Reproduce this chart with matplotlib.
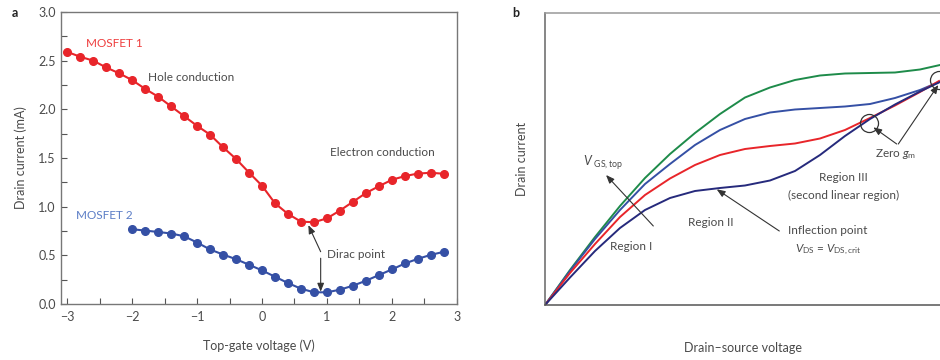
import numpy as np
import matplotlib.pyplot as plt

plt.rcParams['font.family'] = ['Lato', 'DejaVu Sans']
plt.rcParams['mathtext.fontset'] = 'custom'
plt.rcParams['mathtext.rm'] = 'Lato'
plt.rcParams['mathtext.it'] = 'Lato:italic'

TXT = '#4a4a4a'
RED = '#e8252a'
BLUE = '#3550a5'
GREEN = '#1e8b4a'
NAVY = '#262a7c'

# ---- panel a data ----
v1 = np.round(np.arange(-3.0, 2.81, 0.2), 2)
i1 = [2.59, 2.54, 2.50, 2.43, 2.37, 2.30, 2.21, 2.13, 2.03, 1.93, 1.83, 1.74,
      1.61, 1.49, 1.35, 1.215, 1.034, 0.925, 0.846, 0.84, 0.88, 0.96, 1.05,
      1.14, 1.21, 1.276, 1.314, 1.34, 1.348, 1.338]
v2 = np.round(np.arange(-2.0, 2.81, 0.2), 2)
i2 = [0.768, 0.754, 0.74, 0.724, 0.696, 0.631, 0.56, 0.508, 0.46, 0.403,
      0.345, 0.28, 0.215, 0.157, 0.12, 0.12, 0.147, 0.188, 0.239, 0.297,
      0.355, 0.416, 0.464, 0.505, 0.536]

# ---- panel b sketch curves (arbitrary units) ----
g_x = [0, 25, 50, 75, 100, 125, 150, 175, 200, 225, 250, 275, 300, 325, 350, 375, 395]
g_y = [0, 35, 68, 99, 127, 151, 172, 191, 207.5, 217.5, 225, 229.5, 231.5, 232, 232.5, 235.5, 240]
b_x = [0, 25, 50, 75, 100, 125, 150, 175, 200, 225, 250, 275, 300, 325, 350, 375, 394]
b_y = [0, 34, 66, 95, 121, 141, 160, 175, 186, 192.5, 195.5, 197, 198.5, 201, 207, 215, 223]
r_x = [0, 25, 50, 75, 100, 125, 150, 175, 200, 225, 250, 275, 300, 325, 350, 375, 394]
r_y = [0, 32, 61, 88, 110, 126.5, 140, 150, 156, 159, 161.5, 166.5, 175, 187, 199.5, 213, 224]
n_x = [0, 25, 50, 75, 100, 125, 150, 175, 200, 225, 250, 275, 300, 325, 350, 375, 395]
n_y = [0, 27.5, 54, 77, 95, 107, 114, 117, 119.5, 124.5, 134, 150, 169, 186, 200.5, 213.5, 223]
zero_gm_x = [324.3, 394.3]
zero_gm_y = [182.3, 225]

fig = plt.figure(figsize=(9.4, 3.6), dpi=100)

# ================= panel a =================
ax = fig.add_axes([0.0646, 0.1556, 0.4214, 0.8111])
ax.plot(v1, i1, '-o', color=RED, ms=5.5, lw=1.5)
ax.plot(v2, i2, '-o', color=BLUE, ms=5.5, lw=1.5)
ax.set_xlim(-3.1, 3.0)
ax.set_ylim(0, 3.0)
ax.set_xticks([-3, -2, -1, 0, 1, 2, 3])
ax.set_xticks(np.arange(-2.5, 3, 1.0), minor=True)
ax.set_yticks(np.arange(0, 3.01, 0.5))
ax.set_yticks(np.arange(0.25, 3, 0.5), minor=True)
ax.set_yticklabels(['0.0', '0.5', '1.0', '1.5', '2.0', '2.5', '3.0'])
ax.tick_params(which='both', direction='in', length=4, width=0.8, color='#555',
               labelcolor=TXT, labelsize=9)
ax.tick_params(axis='x', pad=5)
for s in ax.spines.values():
    s.set_color('#777')
    s.set_linewidth(1.0)
ax.set_xlabel('Top-gate voltage (V)', color=TXT, fontsize=9, labelpad=12)
ax.set_ylabel('Drain current (mA)', color=TXT, fontsize=9, labelpad=8)

ax.text(-2.71, 2.68, 'MOSFET 1', color='#ee3d3d', fontsize=8.5, va='center')
ax.text(-1.76, 2.33, 'Hole conduction', color=TXT, fontsize=8.5, va='center')
ax.text(1.05, 1.56, 'Electron conduction', color=TXT, fontsize=8.5, va='center')
ax.text(-2.87, 0.908, 'MOSFET 2', color='#5b7dc6', fontsize=8.5, va='center')
ax.text(0.997, 0.504, 'Dirac point', color=TXT, fontsize=8.5, va='center')
arw = dict(arrowstyle='-|>,head_length=0.5,head_width=0.2', color='#333', lw=0.8,
           shrinkA=0, shrinkB=0)
ax.annotate('', xy=(0.713, 0.81), xytext=(0.903, 0.537), arrowprops=arw)
ax.annotate('', xy=(0.903, 0.126), xytext=(0.903, 0.47), arrowprops=arw)
fig.text(0.012, 0.963, 'a', fontsize=9, fontweight='bold', color='#222', va='center')

# ================= panel b =================
bx = fig.add_axes([0.5798, 0.1528, 0.4202, 0.8111])
bx.plot(g_x, g_y, color=GREEN, lw=1.4)
bx.plot(b_x, b_y, color=BLUE, lw=1.4)
bx.plot(r_x, r_y, color=RED, lw=1.4)
bx.plot(n_x, n_y, color=NAVY, lw=1.4)
bx.plot(zero_gm_x, zero_gm_y, 'o', ms=13, mfc='none', mec='#333', mew=0.9)
bx.set_xlim(0, 395)
bx.set_ylim(0, 292)
bx.set_xticks([])
bx.set_yticks([])
bx.spines['right'].set_visible(False)
bx.spines['top'].set_color('#999')
bx.spines['left'].set_color('#666')
bx.spines['bottom'].set_color('#555')
for s in bx.spines.values():
    s.set_linewidth(1.1)
bx.set_xlabel('Drain\u2013source voltage', color=TXT, fontsize=9, labelpad=27)
bx.set_ylabel('Drain current', color=TXT, fontsize=9, labelpad=12)

bx.text(38, 142, r'$V\;_{\mathrm{GS,top}}$', color=TXT, fontsize=9, va='center')
bx.text(86, 58.3, 'Region I', color=TXT, fontsize=8.5, ha='center', va='center')
bx.text(166, 82.3, 'Region II', color=TXT, fontsize=8.5, ha='center', va='center')
bx.text(282.8, 74.3, 'Inflection point', color=TXT, fontsize=8.5, ha='center', va='center')
bx.text(283, 55, r'$V_{\mathrm{DS}}$ = $V_{\mathrm{DS,crit}}$', color=TXT, fontsize=8.5,
        ha='center', va='center')
bx.text(298.7, 127.7, 'Region III', color=TXT, fontsize=8.5, ha='center', va='center')
bx.text(298.7, 110, '(second linear region)', color=TXT, fontsize=8.5, ha='center', va='center')
bx.text(350.8, 151, r'Zero $g_{\mathrm{m}}$', color=TXT, fontsize=8.5, ha='center', va='center')

bx.annotate('', xy=(61, 130), xytext=(108.3, 79), arrowprops=arw)
bx.annotate('', xy=(171.7, 115.7), xytext=(234.3, 74), arrowprops=arw)
bx.annotate('', xy=(328.3, 177.7), xytext=(351.7, 161), arrowprops=arw)
bx.annotate('', xy=(393.3, 220), xytext=(353.3, 161), arrowprops=arw)
fig.text(0.545, 0.963, 'b', fontsize=9, fontweight='bold', color='#222', va='center')

fig.savefig('out.png', dpi=100)
